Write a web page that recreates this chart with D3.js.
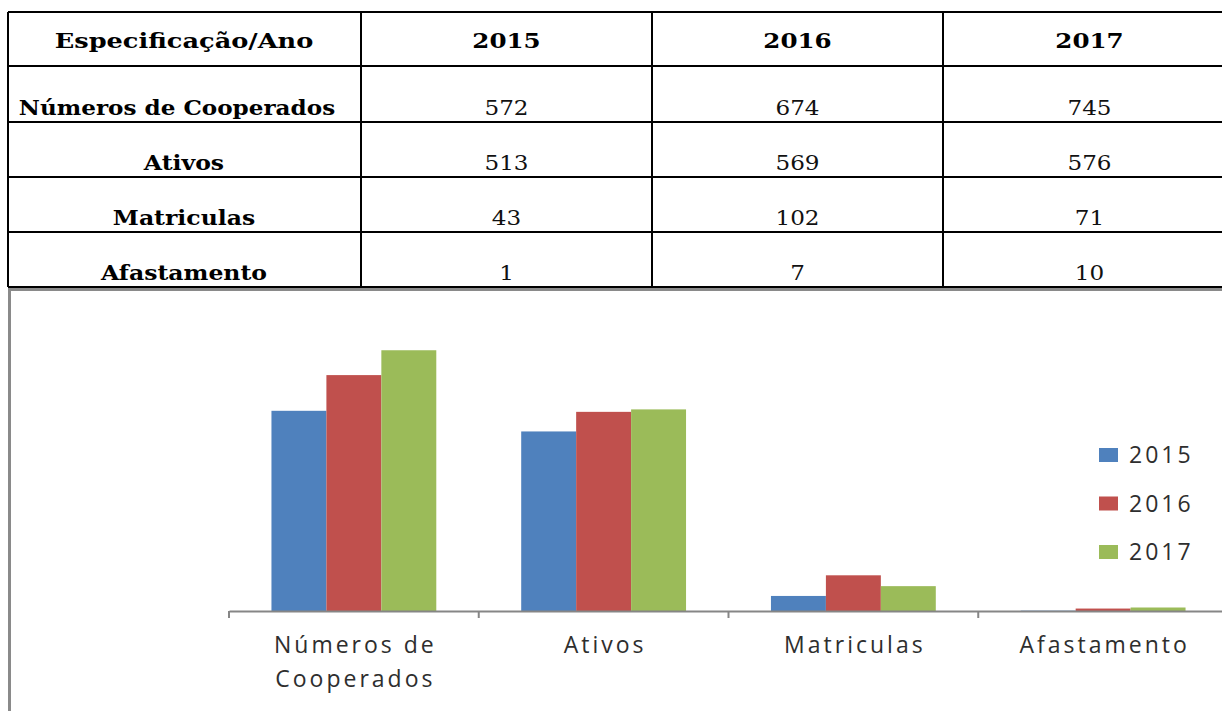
<!DOCTYPE html>
<html><head><meta charset="utf-8">
<script src="https://cdn.jsdelivr.net/npm/d3@7"></script>
<style>
html,body{margin:0;padding:0;background:#fff;}
svg{display:block;}
</style></head>
<body>
<svg id="c" width="1222" height="711"></svg>
<script>
const categories = ["Números de Cooperados", "Ativos", "Matriculas", "Afastamento"];
const categoryLines = [["Números de", "Cooperados"], ["Ativos"], ["Matriculas"], ["Afastamento"]];
const years = ["2015", "2016", "2017"];
const values2015 = [572, 513, 43, 1];
const values2016 = [674, 569, 102, 7];
const values2017 = [745, 576, 71, 10];
const headerLabel = "Especificação/Ano";
const colors = ["#4F81BD", "#C0504D", "#9BBB59"];

const series = [values2015, values2016, values2017];
const svg = d3.select("#c");

// ---------- Table ----------
const colEdges = [8, 361, 652, 943, 1236];
const rowEdges = [12, 66, 122, 177, 232, 287];
const tg = svg.append("g");
const serif = "'DejaVu Serif', 'Liberation Serif', serif";
function widen(sel, f){
  sel.each(function(){
    const w = this.getComputedTextLength();
    d3.select(this).attr("textLength", w*f).attr("lengthAdjust","spacingAndGlyphs");
  });
  return sel;
}
// header
widen(tg.append("text").attr("x", 184).attr("y", 48)
  .attr("text-anchor","middle").attr("font-family",serif).attr("font-weight","bold")
  .attr("font-size",21).attr("fill","#000").text(headerLabel), 1.22);
years.forEach((y,i)=>{
  widen(tg.append("text").attr("x",(colEdges[i+1]+colEdges[i+2])/2).attr("y",48)
    .attr("text-anchor","middle").attr("font-family",serif).attr("font-weight","bold")
    .attr("font-size",21).attr("fill","#000").text(y), 1.17);
});
categories.forEach((c,r)=>{
  const by = rowEdges[r+2]-7;
  const cx = r === 0 ? 177 : 184;
  widen(tg.append("text").attr("x",cx).attr("y",by)
    .attr("text-anchor","middle").attr("font-family",serif).attr("font-weight","bold")
    .attr("font-size",21).attr("fill","#000").text(c), r === 0 ? 1.1 : 1.12);
  series.forEach((s,i)=>{
    widen(tg.append("text").attr("x",(colEdges[i+1]+colEdges[i+2])/2).attr("y",by)
      .attr("text-anchor","middle").attr("font-family",serif)
      .attr("font-size",21).attr("fill","#111").text(s[r]), 1.1);
  });
});
// grid lines
rowEdges.forEach(y=>{
  tg.append("line").attr("x1",colEdges[0]).attr("x2",1222).attr("y1",y).attr("y2",y)
    .attr("stroke","#000").attr("stroke-width",2);
});
colEdges.slice(0,4).forEach(x=>{
  tg.append("line").attr("x1",x).attr("x2",x).attr("y1",rowEdges[0]).attr("y2",rowEdges[5])
    .attr("stroke","#000").attr("stroke-width",2);
});

// ---------- Chart frame ----------
svg.append("path").attr("d","M9.5,712 L9.5,289.5 L1224,289.5")
  .attr("fill","none").attr("stroke","#8a8a8a").attr("stroke-width",3);

// ---------- Chart ----------
const x0 = d3.scaleBand().domain(categories).range([229, 1228]).paddingInner(0).paddingOuter(0);
const bw = x0.bandwidth();
const x1 = d3.scaleBand().domain(years).range([bw*0.17, bw*0.83]).padding(0);
const y = d3.scaleLinear().domain([0, 800]).range([611, 331]);

const bars = svg.append("g");
categories.forEach((c,ci)=>{
  years.forEach((yr,si)=>{
    const v = series[si][ci];
    bars.append("rect")
      .attr("x", x0(c)+x1(yr))
      .attr("y", y(v))
      .attr("width", x1.bandwidth())
      .attr("height", y(0)-y(v))
      .attr("fill", colors[si]);
  });
});

// axis
const axisG = svg.append("g").attr("transform",`translate(0,${y(0)})`);
axisG.call(d3.axisBottom(x0).tickSize(0).tickFormat(""));
axisG.select(".domain").attr("stroke","#868686").attr("stroke-width",2);
const edges = categories.map(c=>x0(c)).concat([x0.range()[1]]);
axisG.selectAll("line.edge").data(edges).enter().append("line").attr("class","edge")
  .attr("x1",d=>d).attr("x2",d=>d).attr("y1",0).attr("y2",7)
  .attr("stroke","#868686").attr("stroke-width",2);

const sans = "'Open Sans', 'DejaVu Sans', sans-serif";
categories.forEach((c,ci)=>{
  const cx = x0(c)+bw/2;
  categoryLines[ci].forEach((ln,li)=>{
    svg.append("text").attr("x",cx+1.5).attr("y",y(0)+42+li*34)
      .attr("text-anchor","middle").attr("font-family",sans).attr("font-size",23)
      .attr("letter-spacing",3).attr("fill","#2e2e2e").text(ln);
  });
});

// legend
const lg = svg.append("g");
years.forEach((yr,i)=>{
  const ly = 448 + i*48.5;
  lg.append("rect").attr("x",1099).attr("y",ly).attr("width",19).attr("height",14).attr("fill",colors[i]);
  lg.append("text").attr("x",1129).attr("y",ly+15).attr("font-family",sans).attr("font-size",23)
    .attr("letter-spacing",3).attr("fill","#2e2e2e").text(yr);
});
</script>
</body></html>
